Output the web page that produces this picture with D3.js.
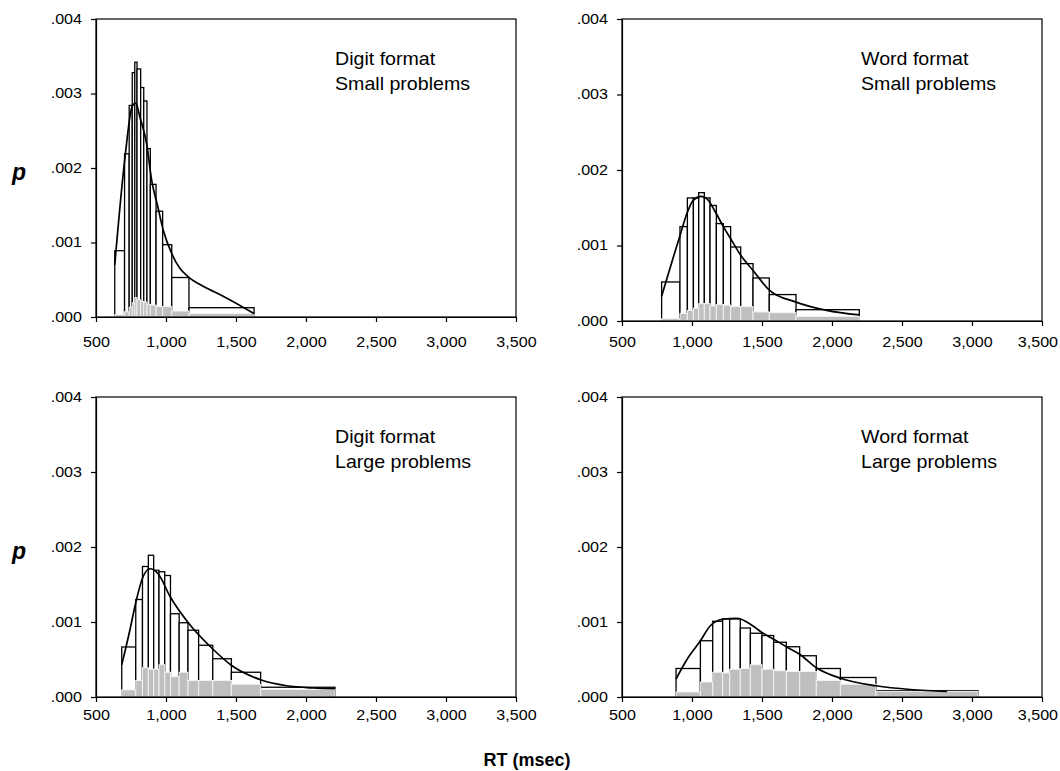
<!DOCTYPE html>
<html>
<head>
<meta charset="utf-8">
<script src="https://cdn.jsdelivr.net/npm/d3@7"></script>
<style>
  body { margin: 0; background: #fff; }
  svg { display: block; font-family: "Liberation Sans", Arial, sans-serif; }
</style>
</head>
<body>
<svg id="chart" width="1060" height="771"></svg>
<script>
// ---- data (RT in msec, p density) ----
const titles = [
    ["Digit format", "Small problems"],
    ["Word format", "Small problems"],
    ["Digit format", "Large problems"],
    ["Word format", "Large problems"]
];

const xTicks = [500, 1000, 1500, 2000, 2500, 3000, 3500];
const yTicks = [0, 0.001, 0.002, 0.003, 0.004];

// digit / small
const binsDS = [634, 704, 737, 759, 777, 793, 819, 841, 864, 888, 929, 976, 1041, 1164, 1629];
const allDS = [0.00089, 0.00219, 0.00284, 0.00328, 0.00342, 0.00333, 0.00308, 0.0029, 0.00226, 0.00178, 0.00142, 0.00097, 0.00053, 0.000125];
const errDS = [0.00003, 0.00007, 0.00013, 0.00019, 0.00026, 0.00023, 0.00021, 0.0002, 0.00017, 0.00016, 0.00014, 0.00014, 0.00008, 0.000045];
const fitRtDS = [634, 707, 759, 784, 814, 862, 898, 939, 981, 1041, 1100, 1159, 1279, 1398, 1631];
const fitPDS = [0.0007, 0.00214, 0.00283, 0.00287, 0.00268, 0.00232, 0.00183, 0.0015, 0.00116, 0.00085, 0.00065, 0.00054, 0.0004, 0.00029, 0.000045];

// word / small
const binsWS = [783, 914, 967, 1010, 1048, 1088, 1129, 1174, 1224, 1276, 1348, 1436, 1552, 1743, 2195];
const allWS = [0.000517, 0.00125, 0.00163, 0.00163, 0.0017, 0.00163, 0.00153, 0.00129, 0.00125, 0.00098, 0.00076, 0.00057, 0.00035, 0.00015];
const errWS = [0.00003, 0.0001, 0.00014, 0.00017, 0.00023, 0.00023, 0.0002, 0.00022, 0.00021, 0.00019, 0.00019, 0.00012, 0.00011, 0.00006];
const fitRtWS = [783, 867, 914, 967, 1010, 1064, 1105, 1174, 1224, 1276, 1348, 1436, 1552, 1743, 1962, 2195];
const fitPWS = [0.000327, 0.000848, 0.00113, 0.00144, 0.0016, 0.00165, 0.00162, 0.00142, 0.00125, 0.00109, 0.00087, 0.00067, 0.00041, 0.00025, 0.00014, 0.00008];

// digit / large
const binsDL = [684, 784, 832, 874, 912, 950, 991, 1032, 1094, 1157, 1233, 1334, 1467, 1676, 2207];
const allDL = [0.000667, 0.0013, 0.00174, 0.00189, 0.00169, 0.00167, 0.00162, 0.00111, 0.00099, 0.00089, 0.00069, 0.00051, 0.00033, 0.00013];
const errDL = [0.000095, 0.00022, 0.00039, 0.00037, 0.00037, 0.00043, 0.00033, 0.00027, 0.00033, 0.00022, 0.00022, 0.00022, 0.00017, 0.0001];
const fitRtDL = [684, 743, 783, 833, 886, 945, 1029, 1159, 1334, 1469, 1676, 1862, 2052, 2207];
const fitPDL = [0.00043, 0.0009, 0.00125, 0.00159, 0.00171, 0.00164, 0.00134, 0.00099, 0.00064, 0.00042, 0.00023, 0.00015, 0.00012, 0.00011];

// word / large
const binsWL = [886, 1060, 1148, 1219, 1269, 1345, 1417, 1500, 1583, 1674, 1769, 1888, 2060, 2314, 3043];
const allWL = [0.00038, 0.00075, 0.00101, 0.00104, 0.00104, 0.00092, 0.00085, 0.00082, 0.00073, 0.00067, 0.00055, 0.00038, 0.00026, 0.000085];
const errWL = [0.000067, 0.0002, 0.00033, 0.00032, 0.00037, 0.00038, 0.00043, 0.00037, 0.00035, 0.00034, 0.00034, 0.00022, 0.00017, 0.000076];
const fitRtWL = [886, 964, 1060, 1131, 1226, 1321, 1417, 1500, 1583, 1674, 1769, 1888, 2060, 2314, 2560, 2821];
const fitPWL = [0.00024, 0.0005, 0.00075, 0.00095, 0.00104, 0.00105, 0.00097, 0.00086, 0.00077, 0.00067, 0.00057, 0.00039, 0.00025, 0.00015, 0.0001, 0.000076];

// ---- layout ----
const panels = [
    { x0: 96, x1: 516, y0: 19, y1: 317, pad: 15, bins: binsDS, all: allDS, err: errDS, fx: fitRtDS, fy: fitPDS },
    { x0: 622, x1: 1042, y0: 19, y1: 321, pad: 11, bins: binsWS, all: allWS, err: errWS, fx: fitRtWS, fy: fitPWS },
    { x0: 96, x1: 516, y0: 397, y1: 697, pad: 8, bins: binsDL, all: allDL, err: errDL, fx: fitRtDL, fy: fitPDL },
    { x0: 622, x1: 1042, y0: 397, y1: 697, pad: 8, bins: binsWL, all: allWL, err: errWL, fx: fitRtWL, fy: fitPWL }
];

const svg = d3.select("#chart");
const fmtP = d => d3.format(".3f")(d).replace(/^0/, "");

panels.forEach((p, k) => {
    const xScale = d3.scaleLinear().domain([500, 3500]).range([p.x0, p.x1]);
    const yScale = d3.scaleLinear().domain([0, 0.004]).range([p.y1, p.y0]);
    const g = svg.append("g");

    // white histogram with black outline
    g.selectAll(".all")
        .data(p.all)
        .enter()
        .append("rect")
        .attr("x", (d, i) => xScale(p.bins[i]))
        .attr("width", (d, i) => xScale(p.bins[i + 1]) - xScale(p.bins[i]))
        .attr("y", d => yScale(d))
        .attr("height", d => yScale(0) - yScale(d))
        .attr("fill", "#fff")
        .attr("stroke", "#000")
        .attr("stroke-width", 1.3);

    // grey histogram on top
    g.selectAll(".err")
        .data(p.err)
        .enter()
        .append("rect")
        .attr("x", (d, i) => xScale(p.bins[i]))
        .attr("width", (d, i) => xScale(p.bins[i + 1]) - xScale(p.bins[i]))
        .attr("y", d => yScale(d))
        .attr("height", d => yScale(0) - yScale(d))
        .attr("fill", "#bfbfbf")
        .attr("stroke", "#f2f2f2")
        .attr("stroke-width", 1);

    // fitted curve
    const pts = p.fx.map((v, i) => [v, p.fy[i]]);
    g.append("path")
        .datum(pts)
        .attr("fill", "none")
        .attr("stroke", "#000")
        .attr("stroke-width", 1.7)
        .attr("d", d3.line()
            .x(d => xScale(d[0]))
            .y(d => yScale(d[1]))
            .curve(d3.curveMonotoneX));

    // frame
    g.append("rect")
        .attr("x", p.x0).attr("y", p.y0)
        .attr("width", p.x1 - p.x0).attr("height", p.y1 - p.y0)
        .attr("fill", "none").attr("stroke", "#000").attr("stroke-width", 1.2);

    const xAxis = g.append("g")
        .attr("transform", `translate(0,${p.y1})`)
        .call(d3.axisBottom(xScale).tickValues(xTicks).tickFormat(d3.format(","))
            .tickSize(5).tickSizeOuter(0).tickPadding(p.pad));
    const yAxis = g.append("g")
        .attr("transform", `translate(${p.x0},0)`)
        .call(d3.axisLeft(yScale).tickValues(yTicks).tickFormat(fmtP)
            .tickSize(5).tickSizeOuter(0).tickPadding(9));
    [xAxis, yAxis].forEach(a => {
        a.selectAll("text").attr("font-size", "14px").attr("fill", "#000")
            .attr("font-family", "'Liberation Sans', Arial, sans-serif");
        a.selectAll("line, path").attr("stroke", "#000").attr("stroke-width", 1.2);
    });
    // the printed labels are a little wider than Arial
    xAxis.selectAll("text").attr("transform", "scale(1.15,1)");
    // keep the last label of the right-hand panels inside the page
    if (k % 2 === 1) {
        xAxis.selectAll("text").filter(d => d === 3500).attr("dx", -4);
    }
    yAxis.selectAll("text").each(function () {
        const t = d3.select(this);
        const xx = +t.attr("x");
        t.attr("x", 0).attr("transform", `translate(${xx},0) scale(1.15,1)`);
    });

    // panel label
    g.selectAll(".lbl")
        .data(titles[k])
        .enter()
        .append("text")
        .attr("transform", (d, i) => `translate(${p.x0 + 239},${p.y0 + 46 + i * 25}) scale(1.06,1)`)
        .attr("font-size", "18.5px")
        .text(d => d);

    if (k % 2 === 0) {
        g.append("text").text("p")
            .attr("x", 19).attr("y", yScale(0.002) + 12)
            .attr("text-anchor", "middle")
            .attr("font-size", "23px").attr("font-weight", "bold").attr("font-style", "italic");
    }
});

svg.append("text").text("RT (msec)")
    .attr("x", 527).attr("y", 766)
    .attr("text-anchor", "middle")
    .attr("font-size", "18px").attr("font-weight", "bold");
</script>
</body>
</html>
